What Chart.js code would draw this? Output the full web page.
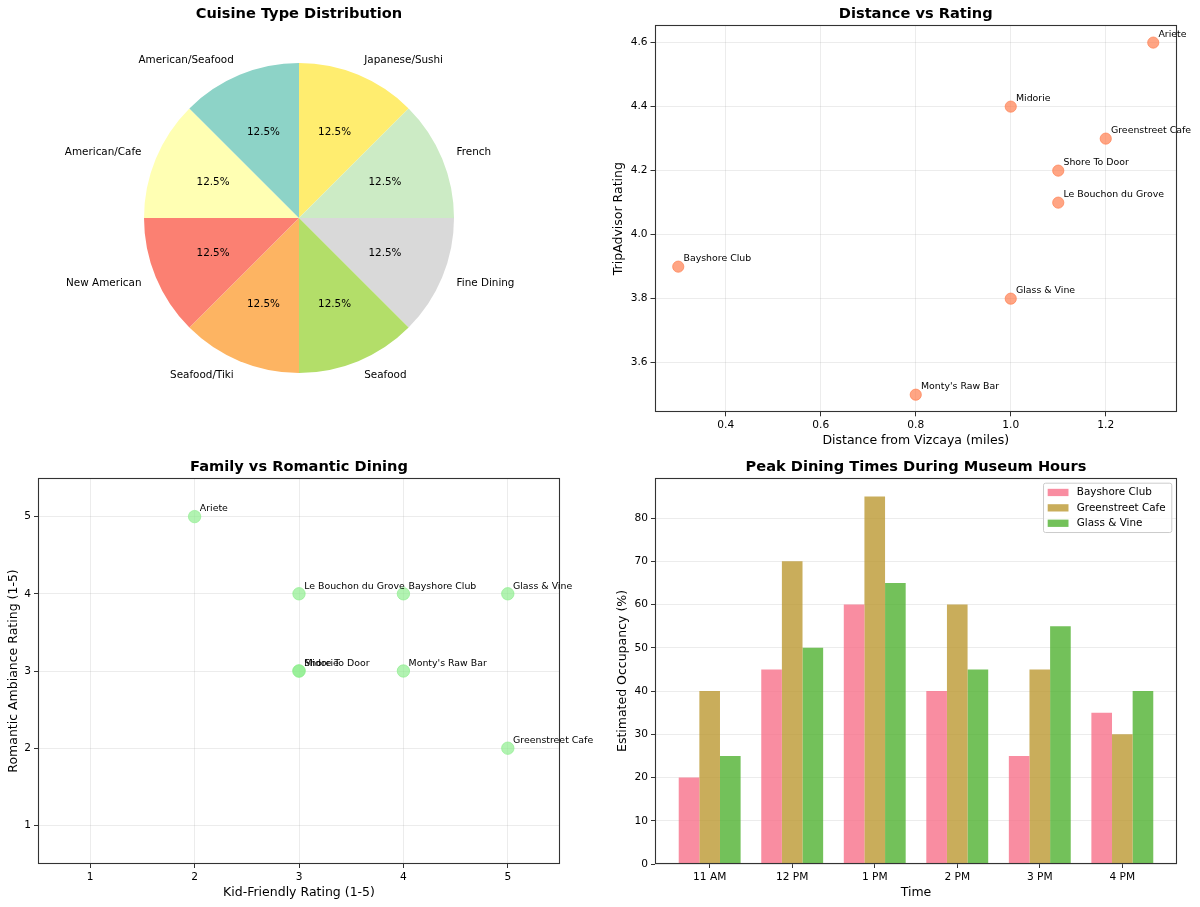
<!DOCTYPE html>
<html><head><meta charset="utf-8">
<script src="https://cdn.jsdelivr.net/npm/chart.js@4.4.0/dist/chart.umd.min.js"></script>
<style>
html,body{margin:0;padding:0;background:#fff;overflow:hidden;}
#wrap{position:relative;width:1200px;height:907px;background:#fff;}
canvas{position:absolute;}
</style></head><body>
<div id="wrap">
<canvas id="cPie" width="600" height="453" style="left:0;top:0"></canvas>
<canvas id="cDist" width="600" height="453" style="left:600px;top:0"></canvas>
<canvas id="cFam" width="600" height="454" style="left:0;top:453px"></canvas>
<canvas id="cPeak" width="600" height="454" style="left:600px;top:453px"></canvas>
</div>
<script>
// ---------- data ----------
const restaurantNames = ['Bayshore Club','Greenstreet Cafe','Glass & Vine',"Monty's Raw Bar",'Shore To Door','Ariete','Le Bouchon du Grove','Midorie'];
const cuisineTypes = ['American/Seafood','American/Cafe','New American','Seafood/Tiki','Seafood','Fine Dining','French','Japanese/Sushi'];
const cuisineCounts = [1,1,1,1,1,1,1,1];
const cuisineColors = ['#8dd3c7','#ffffb3','#fb8072','#fdb462','#b3de69','#d9d9d9','#ccebc5','#ffed6f'];
const distanceMiles = [0.3,1.2,1.0,0.8,1.1,1.3,1.1,1.0];
const tripAdvisorRating = [3.9,4.3,3.8,3.5,4.2,4.6,4.1,4.4];
const kidFriendly = [4,5,5,4,3,2,3,3];
const romanticAmbiance = [4,2,4,3,3,5,4,3];
const timeLabels = ['11 AM','12 PM','1 PM','2 PM','3 PM','4 PM'];
const bayshoreOccupancy = [20,45,60,40,25,35];
const greenstreetOccupancy = [40,70,85,60,45,30];
const glassVineOccupancy = [25,50,65,45,55,40];
const distanceTicks = [0.4,0.6,0.8,1.0,1.2];
const distanceTickLabels = ['0.4','0.6','0.8','1.0','1.2'];
const ratingTicks = [3.6,3.8,4.0,4.2,4.4,4.6];
const ratingTickLabels = ['3.6','3.8','4.0','4.2','4.4','4.6'];
const oneToFiveTicks = [1,2,3,4,5];
const oneToFiveLabels = ['1','2','3','4','5'];
const occupancyTicks = [0,10,20,30,40,50,60,70,80];
const occupancyTickLabels = ['0','10','20','30','40','50','60','70','80'];
const timeTicks = [0,1,2,3,4,5];

// ---------- helpers ----------
const FONT = "'DejaVu Sans', sans-serif";
Chart.defaults.font.family = FONT;
Chart.defaults.color = '#000';
Chart.defaults.animation = false;

function titleOpts(text, bottomPad){
  return {display:true, text, fullSize:false, color:'#000',
    font:{size:14.6, weight:'bold', family:FONT}, padding:{top:5.54, bottom:bottomPad}};
}
function linAxis(o){
  return {
    type:'linear', min:o.min, max:o.max, offset:false,
    afterBuildTicks: s => { s.ticks = o.ticks.map(v => ({value:v})); },
    afterFit: s => { if (o.isX) s.height = o.size; else s.width = o.size; },
    ticks:{autoSkip:false, maxRotation:0, padding:3, color:'#000', font:{size:10.6, family:FONT},
      callback:(v,i) => o.labels[i]},
    grid:{display:true, drawOnChartArea:o.grid !== false, color:'rgba(176,176,176,0.3)', lineWidth:0.8,
      tickColor:'#333', tickWidth:1, tickLength:4, offset:false},
    border:{display:false},
    title:{display:true, text:o.title, color:'#000', font:{size:12.5, family:FONT},
      padding: o.isX ? {top:0, bottom:o.titlePad} : {top:o.titlePad, bottom:0}}
  };
}
const framePlugin = {id:'frame', afterDatasetsDraw(chart){
  const {ctx, chartArea:a} = chart;
  ctx.save(); ctx.strokeStyle = '#333'; ctx.lineWidth = 1.1;
  const l = Math.round(a.left)+0.5, t = Math.round(a.top)+0.5, r = Math.round(a.right)-0.5, b = Math.round(a.bottom)-0.5;
  ctx.strokeRect(l, t, r-l, b-t);
  ctx.restore();
}};
function pointLabelPlugin(names){
  return {id:'ptLabels', afterDatasetsDraw(chart){
    const ctx = chart.ctx, meta = chart.getDatasetMeta(0);
    ctx.save(); ctx.font = '9.4px ' + FONT; ctx.fillStyle = '#000';
    ctx.textAlign = 'left'; ctx.textBaseline = 'alphabetic';
    meta.data.forEach((pt,i) => ctx.fillText(names[i], pt.x + 5.2, pt.y - 5.2));
    ctx.restore();
  }};
}
const piePlugin = {id:'pieLabels', afterDatasetsDraw(chart){
  const ctx = chart.ctx, meta = chart.getDatasetMeta(0), ds = chart.data.datasets[0];
  const total = ds.data.reduce((a,b) => a+b, 0);
  ctx.save(); ctx.font = '10.4px ' + FONT; ctx.fillStyle = '#000'; ctx.textBaseline = 'middle';
  meta.data.forEach((arc,i) => {
    const {x, y, startAngle, endAngle, outerRadius:r} = arc;
    const mid = (startAngle + endAngle)/2, c = Math.cos(mid), s = Math.sin(mid);
    ctx.textAlign = c > 1e-9 ? 'left' : 'right';
    ctx.fillText(chart.data.labels[i], x + 1.1*r*c, y + 1.1*r*s);
    ctx.textAlign = 'center';
    ctx.fillText((ds.data[i]/total*100).toFixed(1) + '%', x + 0.6*r*c, y + 0.6*r*s);
  });
  ctx.restore();
}};
const legendPlugin = {id:'mplLegend', afterDatasetsDraw(chart){
  const ctx = chart.ctx, a = chart.chartArea, fs = 10.4;
  ctx.save(); ctx.font = fs + 'px ' + FONT;
  const items = chart.data.datasets.map(d => ({text:d.label, color:d.backgroundColor}));
  const maxW = Math.max(...items.map(it => ctx.measureText(it.text).width));
  const pad = 0.4*fs, hl = 2*fs, htp = 0.8*fs, ls = 0.5*fs, rowH = 10.2;
  const w = pad*2 + hl + htp + maxW + 2, h = pad*2 + items.length*rowH + (items.length-1)*ls;
  const right = a.right - 0.5*fs, top = a.top + 0.5*fs, left = right - w;
  const rr = 2;
  ctx.beginPath();
  ctx.moveTo(left+rr, top); ctx.lineTo(right-rr, top); ctx.quadraticCurveTo(right, top, right, top+rr);
  ctx.lineTo(right, top+h-rr); ctx.quadraticCurveTo(right, top+h, right-rr, top+h);
  ctx.lineTo(left+rr, top+h); ctx.quadraticCurveTo(left, top+h, left, top+h-rr);
  ctx.lineTo(left, top+rr); ctx.quadraticCurveTo(left, top, left+rr, top); ctx.closePath();
  ctx.fillStyle = 'rgba(255,255,255,0.8)'; ctx.fill();
  ctx.strokeStyle = '#cccccc'; ctx.lineWidth = 1; ctx.stroke();
  items.forEach((it,i) => {
    const cy = top + pad + rowH/2 + i*(rowH + ls);
    ctx.fillStyle = it.color; ctx.fillRect(left + pad, cy - 0.35*fs, hl, 0.7*fs);
    ctx.fillStyle = '#000'; ctx.textAlign = 'left'; ctx.textBaseline = 'middle';
    ctx.fillText(it.text, left + pad + hl + htp, cy);
  });
  ctx.restore();
}};
const common = {responsive:false, devicePixelRatio:1, animation:false, events:[]};

// ---------- 1: pie ----------
new Chart(document.getElementById('cPie'), {
  type:'pie',
  data:{labels: cuisineTypes.slice().reverse(),
    datasets:[{data: cuisineCounts.slice().reverse(), backgroundColor: cuisineColors.slice().reverse(),
      borderWidth:0, hoverOffset:0}]},
  options:Object.assign({}, common, {
    rotation:0,
    layout:{padding:{left:144, right:146, top:0, bottom:80}},
    plugins:{legend:{display:false}, tooltip:{enabled:false},
      title:titleOpts('Cuisine Type Distribution', 39.94)}
  }),
  plugins:[piePlugin]
});

// ---------- 2: distance vs rating ----------
new Chart(document.getElementById('cDist'), {
  type:'scatter',
  data:{datasets:[{data: distanceMiles.map((d,i) => ({x:d, y:tripAdvisorRating[i]})),
    backgroundColor:'rgba(255,127,80,0.7)', borderColor:'rgba(255,127,80,0.7)', borderWidth:1, pointRadius:5.6}]},
  options:Object.assign({}, common, {
    layout:{padding:{left:0, right:23, top:0, bottom:0}},
    scales:{
      x: linAxis({min:0.25, max:1.35, ticks:distanceTicks, labels:distanceTickLabels, title:'Distance from Vizcaya (miles)', titlePad:4.7, size:40.7, isX:true}),
      y: linAxis({min:3.445, max:4.655, ticks:ratingTicks, labels:ratingTickLabels, title:'TripAdvisor Rating', titlePad:11.6, size:54.5, isX:false})
    },
    plugins:{legend:{display:false}, tooltip:{enabled:false}, title:titleOpts('Distance vs Rating', 1.94)}
  }),
  plugins:[framePlugin, pointLabelPlugin(restaurantNames)]
});

// ---------- 3: family vs romantic ----------
new Chart(document.getElementById('cFam'), {
  type:'scatter',
  data:{datasets:[{data: kidFriendly.map((k,i) => ({x:k, y:romanticAmbiance[i]})),
    backgroundColor:'rgba(144,238,144,0.7)', borderColor:'rgba(144,238,144,0.7)', borderWidth:1, pointRadius:6.2}]},
  options:Object.assign({}, common, {
    layout:{padding:{left:0, right:40, top:0, bottom:0}},
    scales:{
      x: linAxis({min:0.5, max:5.5, ticks:oneToFiveTicks, labels:oneToFiveLabels, title:'Kid-Friendly Rating (1-5)', titlePad:7, size:43, isX:true}),
      y: linAxis({min:0.5, max:5.5, ticks:oneToFiveTicks, labels:oneToFiveLabels, title:'Romantic Ambiance Rating (1-5)', titlePad:5.9, size:38, isX:false})
    },
    plugins:{legend:{display:false}, tooltip:{enabled:false}, title:titleOpts('Family vs Romantic Dining', 1.94)}
  }),
  plugins:[framePlugin, pointLabelPlugin(restaurantNames)]
});

// ---------- 4: peak dining ----------
new Chart(document.getElementById('cPeak'), {
  type:'bar',
  data:{datasets:[
    {label:'Bayshore Club', data: bayshoreOccupancy.map((v,i) => ({x:timeTicks[i], y:v})), backgroundColor:'rgba(247,113,137,0.8)'},
    {label:'Greenstreet Cafe', data: greenstreetOccupancy.map((v,i) => ({x:timeTicks[i], y:v})), backgroundColor:'rgba(187,152,50,0.8)'},
    {label:'Glass & Vine', data: glassVineOccupancy.map((v,i) => ({x:timeTicks[i], y:v})), backgroundColor:'rgba(80,177,49,0.8)'}
  ]},
  options:Object.assign({}, common, {
    layout:{padding:{left:0, right:23, top:0, bottom:0}},
    datasets:{bar:{categoryPercentage:0.75, barPercentage:1.0, borderWidth:0}},
    scales:{
      x: linAxis({min:-0.6625, max:5.6625, ticks:timeTicks, labels:timeLabels, title:'Time', titlePad:7, size:43, isX:true, grid:false}),
      y: linAxis({min:0, max:89.25, ticks:occupancyTicks, labels:occupancyTickLabels, title:'Estimated Occupancy (%)', titlePad:15.5, size:55, isX:false})
    },
    plugins:{legend:{display:false}, tooltip:{enabled:false}, title:titleOpts('Peak Dining Times During Museum Hours', 1.94)}
  }),
  plugins:[framePlugin, legendPlugin]
});
</script>
</body></html>
